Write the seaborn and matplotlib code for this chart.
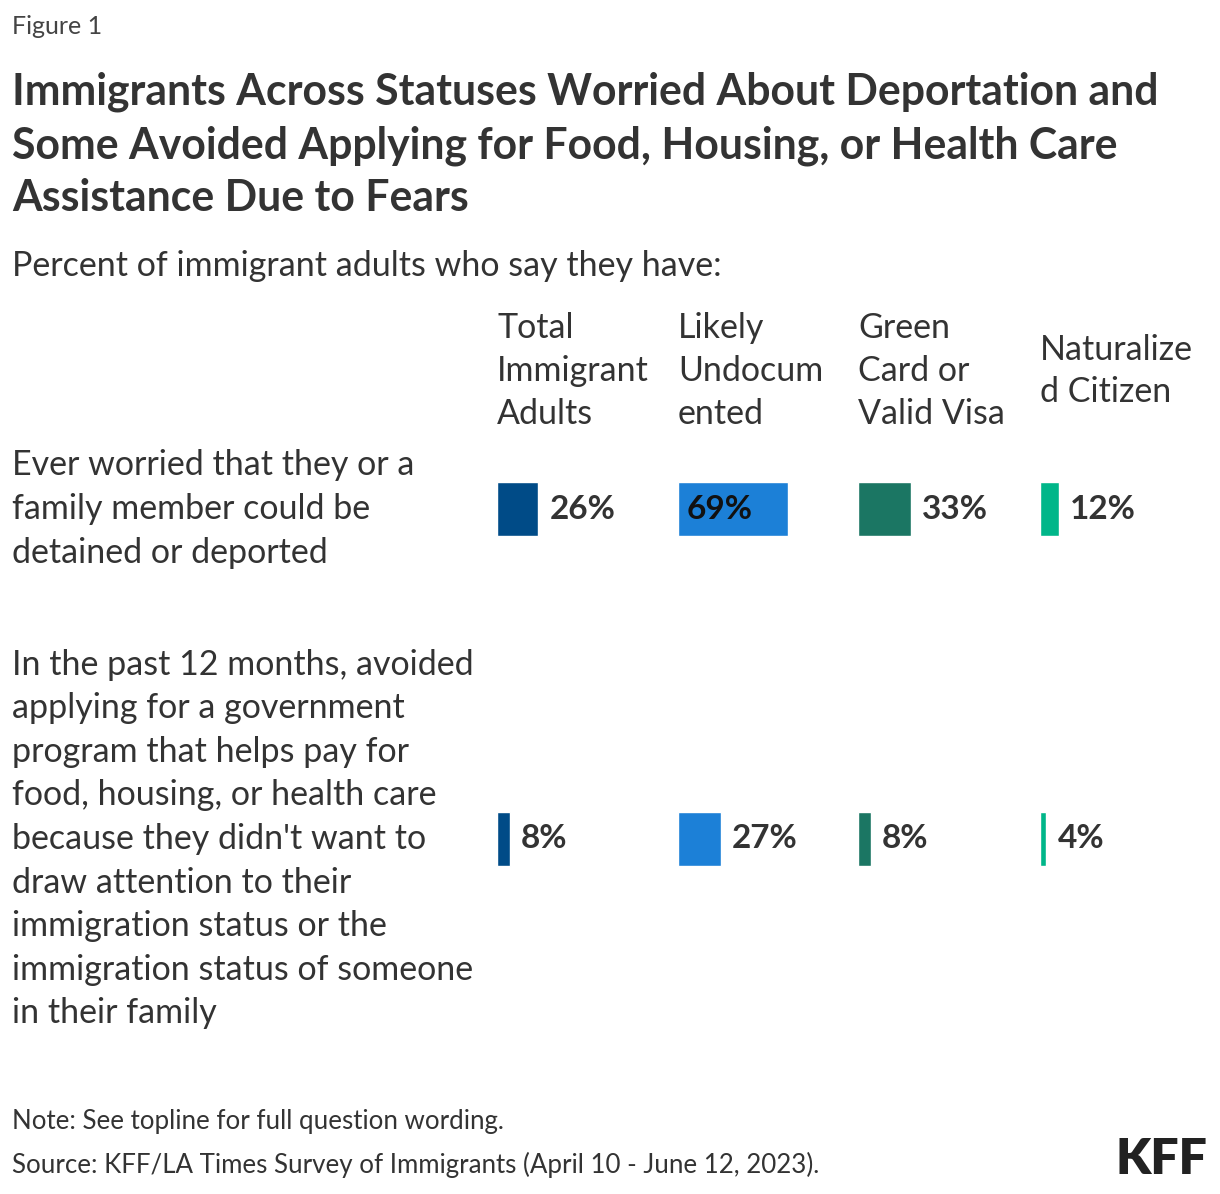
import matplotlib
matplotlib.use("Agg")
import matplotlib.pyplot as plt
import matplotlib.transforms as mtransforms
import seaborn as sns
import pandas as pd

# ---- data ----
groups = ["Total\nImmigrant\nAdults", "Likely\nUndocum\nented", "Green\nCard or\nValid Visa", "Naturalize\nd Citizen"]
rows = [
    "Ever worried that they or a\nfamily member could be\ndetained or deported",
    "In the past 12 months, avoided\napplying for a government\nprogram that helps pay for\nfood, housing, or health care\nbecause they didn't want to\ndraw attention to their\nimmigration status or the\nimmigration status of someone\nin their family",
]
total_vals = [26, 8]
undoc_vals = [69, 27]
green_vals = [33, 8]
natur_vals = [12, 4]
colors = ["#004b87", "#1c80d7", "#1b7663", "#00b689"]

series = [total_vals, undoc_vals, green_vals, natur_vals]

sns.set_theme(style="white")
plt.rcParams["font.family"] = ["Lato", "DejaVu Sans"]
TXT = "#333333"

W, H = 1220, 1194
fig = plt.figure(figsize=(W / 100, H / 100), dpi=100)
fig.patch.set_facecolor("white")

def fx(px):
    return px / W

def fy(py):
    return 1 - py / H

BODY = 24.5

# header texts
fig.text(fx(12), fy(27), "Figure 1", fontsize=18, color="#444444", va="center", ha="left")
fig.text(fx(12), fy(145),
         "Immigrants Across Statuses Worried About Deportation and\n"
         "Some Avoided Applying for Food, Housing, or Health Care\n"
         "Assistance Due to Fears",
         fontsize=30.8, fontweight="bold", color=TXT, va="center", ha="left", linespacing=1.38)
fig.text(fx(12), fy(266), "Percent of immigrant adults who say they have:",
         fontsize=BODY, color=TXT, va="center", ha="left")

panel_x = [497, 678, 858, 1040]
px_per_pct = 1.594
ax_w = 175
row_c = [509, 839]
spacing = row_c[1] - row_c[0]
ax_top = row_c[0] - spacing / 2
ax_bot = row_c[1] + spacing / 2

for i, (g, vals, col) in enumerate(zip(groups, series, colors)):
    ax = fig.add_axes([fx(panel_x[i]), fy(ax_bot), fx(ax_w), (ax_bot - ax_top) / H])
    df = pd.DataFrame({"row": [f"r{k}" for k in range(len(vals))], "value": vals})
    sns.barplot(data=df, x="value", y="row", orient="h", color=col,
                width=54 / spacing, saturation=1, ax=ax)
    ax.set_xlim(0, ax_w / px_per_pct)
    ax.set_ylim(len(vals) - 0.5, -0.5)
    ax.axis("off")
    for k, v in enumerate(vals):
        if v > 50:
            tr = mtransforms.offset_copy(ax.transData, fig=fig, x=9 * 0.72, y=0, units="points")
            ax.text(0, k, f"{v}%", transform=tr, ha="left", va="center",
                    fontsize=24, fontweight="bold", color="#111111")
        else:
            tr = mtransforms.offset_copy(ax.transData, fig=fig, x=11 * 0.72, y=0, units="points")
            ax.text(v, k, f"{v}%", transform=tr, ha="left", va="center",
                    fontsize=24, fontweight="bold", color=TXT)
    fig.text(fx(panel_x[i]), fy(371), g, fontsize=BODY, color=TXT,
             va="center", ha="left", linespacing=1.41)

for r, yc in zip(rows, row_c):
    fig.text(fx(12), fy(yc), r, fontsize=BODY, color=TXT, va="center", ha="left", linespacing=1.445)

fig.text(fx(12), fy(1121), "Note: See topline for full question wording.",
         fontsize=18.6, color=TXT, va="center", ha="left")
fig.text(fx(12), fy(1165), "Source: KFF/LA Times Survey of Immigrants (April 10 - June 12, 2023).",
         fontsize=18.6, color=TXT, va="center", ha="left")
fig.text(fx(1207), fy(1159), "KFF", fontsize=36, fontweight="heavy", color="#222222",
         va="center", ha="right")

fig.savefig("out.png", dpi=100, facecolor="white")
